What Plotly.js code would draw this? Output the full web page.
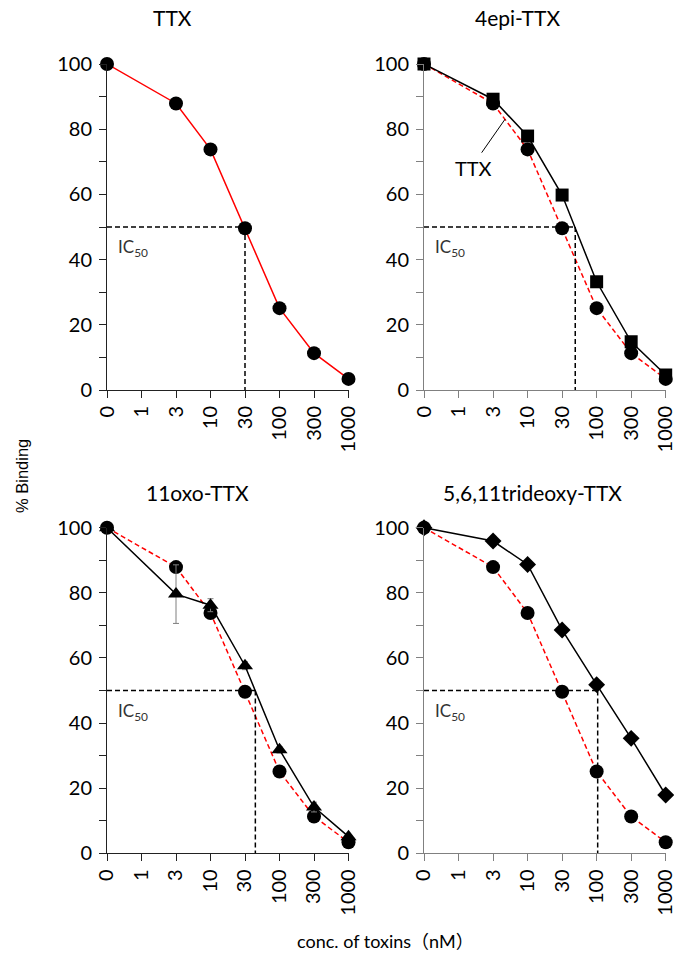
<!DOCTYPE html>
<html>
<head>
<meta charset="utf-8">
<script src="https://cdn.plot.ly/plotly-3.0.1.min.js"></script>
<style>html,body{margin:0;padding:0;background:#fff;}#chart{width:674px;height:954px;}</style>
</head>
<body>
<div id="chart"></div>
<script>
// ---- data ----
const concLabels = ['0', '1', '3', '10', '30', '100', '300', '1000'];
const concData = ['0', '3', '10', '30', '100', '300', '1000'];

const ttxValues = [100, 87.9, 73.8, 49.6, 25.1, 11.3, 3.4];
const ttxErrors = [0, 1.3, 1.2, 0.8, 0.8, 0.8, 0.5];

const epiValues = [100, 89.2, 77.9, 59.8, 33.2, 14.8, 4.6];
const epiErrors = [0, 1.0, 1.0, 1.0, 1.0, 1.0, 0.8];

const oxoValues = [100, 79.6, 76.2, 57.6, 31.8, 14.2, 5.1];
const oxoErrors = [0, 9.0, 2.0, 1.2, 1.0, 1.5, 0.8];

const trideoxyValues = [100, 95.9, 88.7, 68.6, 51.8, 35.3, 17.9];
const trideoxyErrors = [0, 1.5, 1.0, 1.2, 1.0, 1.0, 0.8];

const panelTitles = ['TTX', '4epi-TTX', '11oxo-TTX', '5,6,11trideoxy-TTX'];
const ic50Positions = [4.0, 4.38, 4.3, 5.03]; // category-index position of IC50
const yTickVals = [0, 20, 40, 60, 80, 100];

// ---- layout helpers ----
const W = 674, H = 954;
const px = v => v / W;
const py = v => 1 - v / H;
const FONT = 'Lato, "Noto Sans CJK JP", sans-serif';

const panels = [
  {xd: [107, 348.5], yd: [64, 390], axis: '#222222'},
  {xd: [424, 665.7], yd: [64, 390], axis: '#808080'},
  {xd: [107, 348.5], yd: [527.7, 853.3], axis: '#222222'},
  {xd: [424, 665.7], yd: [527.7, 853.3], axis: '#808080'}
];

function series(xa, ya, values, errors, color, dash, symbol, msize) {
  return {
    type: 'scatter', mode: 'lines+markers',
    x: concData, y: values, xaxis: xa, yaxis: ya,
    line: {color: color, width: 1.5, dash: dash},
    marker: {color: '#000', symbol: symbol, size: msize},
    error_y: {type: 'data', array: errors, visible: true, color: '#7f7f7f', thickness: 1, width: 3},
    cliponaxis: false, showlegend: false, hoverinfo: 'skip'
  };
}

const traces = [
  series('x', 'y', ttxValues, ttxErrors, '#ff0000', 'solid', 'circle', 14),
  series('x2', 'y2', ttxValues, ttxErrors, '#ff0000', '5px,3px', 'circle', 14),
  series('x2', 'y2', epiValues, epiErrors, '#000000', 'solid', 'square', 13),
  series('x3', 'y3', ttxValues, ttxErrors, '#ff0000', '5px,3px', 'circle', 14),
  series('x3', 'y3', oxoValues, oxoErrors, '#000000', 'solid', 'triangle-up', 14),
  series('x4', 'y4', ttxValues, ttxErrors, '#ff0000', '5px,3px', 'circle', 14),
  series('x4', 'y4', trideoxyValues, trideoxyErrors, '#000000', 'solid', 'diamond', 13)
];

const layout = {
  width: W, height: H,
  margin: {l: 0, r: 0, t: 0, b: 0},
  paper_bgcolor: '#fff', plot_bgcolor: 'rgba(0,0,0,0)',
  showlegend: false,
  font: {family: FONT, color: '#000', size: 20},
  shapes: [], annotations: []
};

panels.forEach((p, i) => {
  const n = i === 0 ? '' : String(i + 1);
  const xa = 'x' + n, ya = 'y' + n;
  layout['xaxis' + n] = {
    type: 'category', categoryorder: 'array', categoryarray: concLabels,
    range: [0, 7], domain: [px(p.xd[0]), px(p.xd[1])], anchor: ya,
    showgrid: false, zeroline: false, showline: true, linecolor: p.axis, linewidth: 1,
    ticks: 'outside', ticklen: 7, tickcolor: p.axis, tickwidth: 1,
    tickangle: -90, tickfont: {family: FONT, size: 20, color: '#000'},
    fixedrange: true
  };
  layout['yaxis' + n] = {
    range: [0, 100], domain: [py(p.yd[1]), py(p.yd[0])], anchor: xa,
    showgrid: false, zeroline: false, showline: true, linecolor: p.axis, linewidth: 1,
    ticks: 'outside', ticklen: 7, tickcolor: p.axis, tickwidth: 1,
    tickmode: 'array', tickvals: yTickVals,
    minor: {ticks: 'outside', dtick: 10, tick0: 0, ticklen: 7, tickcolor: p.axis, tickwidth: 1, showgrid: false},
    tickfont: {family: FONT, size: 20, color: '#000'}, ticklabelstandoff: 3,
    fixedrange: true
  };
  // IC50 dashed guides
  const ic = ic50Positions[i];
  layout.shapes.push({type: 'line', xref: xa, yref: ya, x0: 0, x1: ic, y0: 50, y1: 50,
    line: {color: '#000', width: 1.5, dash: '5px,3px'}});
  layout.shapes.push({type: 'line', xref: xa, yref: ya, x0: ic, x1: ic, y0: 50, y1: 0,
    line: {color: '#000', width: 1.5, dash: '5px,3px'}});
  layout.annotations.push({xref: xa, yref: ya, x: 0.27, y: 43.5, xanchor: 'left', yanchor: 'middle',
    text: 'IC<sub>50</sub>', showarrow: false, font: {family: FONT, size: 17, color: '#333'}});
});

// panel titles
const titlePos = [[172, 17], [517, 17], [197, 492], [532, 492]];
panelTitles.forEach((t, i) => {
  layout.annotations.push({xref: 'paper', yref: 'paper', x: px(titlePos[i][0]), y: py(titlePos[i][1]),
    xanchor: 'center', yanchor: 'middle', text: t, showarrow: false,
    font: {family: FONT, size: 21, color: '#000'}});
});

// "TTX" pointer label in 4epi panel
layout.annotations.push({xref: 'x2', yref: 'y2', x: 1.42, y: 68, xanchor: 'center', yanchor: 'middle',
  text: 'TTX', showarrow: false, font: {family: FONT, size: 20, color: '#000'}});
layout.shapes.push({type: 'line', xref: 'x2', yref: 'y2', x0: 1.67, y0: 72.8, x1: 2.35, y1: 83.1,
  line: {color: '#000', width: 1}});

// shared axis titles
layout.annotations.push({xref: 'paper', yref: 'paper', x: px(22), y: py(476), textangle: -90,
  xanchor: 'center', yanchor: 'middle', text: '% Binding', showarrow: false,
  font: {family: '"Liberation Sans", Arial, sans-serif', size: 16.5, color: '#000'}});
layout.annotations.push({xref: 'paper', yref: 'paper', x: px(385), y: py(941),
  xanchor: 'center', yanchor: 'middle', text: 'conc. of toxins（nM）', showarrow: false,
  font: {family: FONT, size: 18, color: '#000'}});

Plotly.newPlot('chart', traces, layout, {displayModeBar: false, staticPlot: true});
</script>
</body>
</html>
